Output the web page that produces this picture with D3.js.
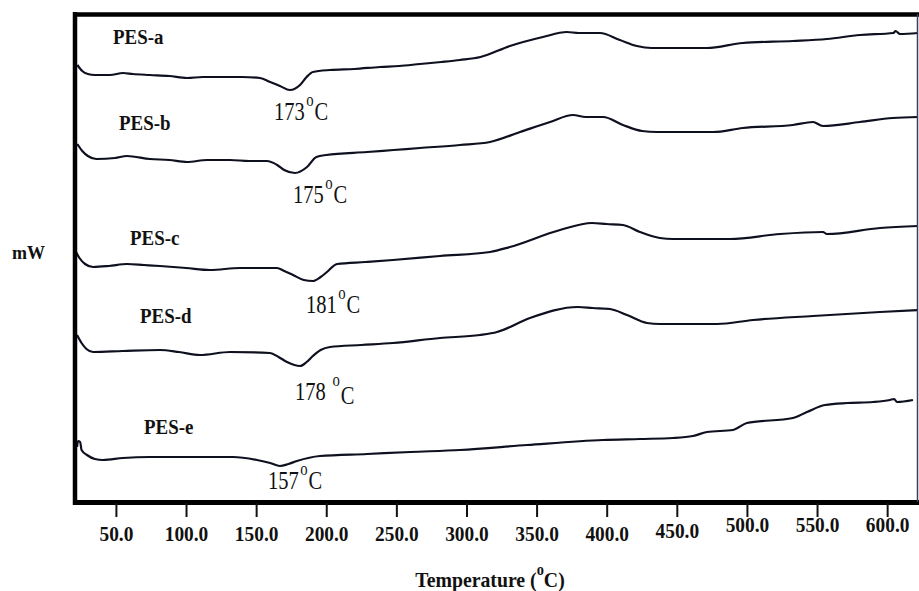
<!DOCTYPE html>
<html>
<head>
<meta charset="utf-8">
<script src="https://cdn.jsdelivr.net/npm/d3@7"></script>
<style>
  body { margin: 0; background: #fff; }
  svg { display: block; }
</style>
</head>
<body>
<svg id="chart"></svg>
<script>
// DSC traces, [temperature °C, heat flow (arbitrary mW, stacked offset)]
const pesA = [[22.5,43.5],[26.0,42.9],[30.0,42.6],[35.0,42.5],[45.8,42.5],[55.1,42.7],[62.0,42.6],[74.3,42.5],[88.0,42.4],[100.7,42.2],
  [112.0,42.3],[124.2,42.3],[140.0,42.3],[152.7,42.2],[160.0,41.8],[167.0,41.4],[174.1,41.0],[181.3,41.5],[186.0,42.3],[190.5,42.8],
  [202.7,43.0],[220.0,43.1],[238.3,43.3],[252.0,43.4],[266.8,43.6],[282.0,43.8],[295.4,44.0],[310.0,44.3],[331.0,45.4],[354.5,46.3],
  [371.6,46.8],[380.0,46.7],[395.2,46.7],[409.4,46.0],[421.5,45.4],[432.0,45.2],[471.4,45.2],[497.1,45.7],[532.8,45.9],[557.0,46.1],
  [580.6,46.5],[604.5,46.7],[606.0,46.9],[609.1,46.6],[622.0,46.7]];
const pesB = [[22.5,35.6],[26.0,34.9],[30.0,34.4],[36.0,34.1],[49.4,34.2],[57.9,34.4],[74.3,34.1],[88.0,34.0],[100.7,33.8],[115.0,34.0],
  [131.4,34.0],[145.0,33.9],[157.7,33.9],[165.0,33.5],[170.0,33.0],[177.7,32.7],[186.3,33.3],[193.0,34.3],[200.0,34.5],[229.1,34.8],
  [248.0,35.0],[266.8,35.2],[295.4,35.5],[316.8,35.8],[338.2,36.8],[359.6,37.8],[376.0,38.5],[385.0,38.3],[397.4,38.3],[411.6,37.5],
  [425.2,36.9],[435.9,36.8],[475.8,36.8],[497.1,37.2],[532.8,37.5],[547.1,37.8],[554.2,37.4],[580.6,37.8],[604.1,38.2],[622.0,38.3]];
const pesC = [[20.8,25.0],[24.0,24.2],[28.0,23.6],[33.7,23.3],[45.0,23.4],[57.9,23.6],[70.0,23.5],[81.4,23.4],[100.0,23.2],[117.1,23.0],
  [138.5,23.2],[164.9,23.2],[170.0,22.9],[176.3,22.5],[184.0,22.0],[190.5,21.9],[196.0,22.3],[200.5,22.8],[207.7,23.6],[228.0,23.8],
  [247.6,24.0],[281.1,24.4],[316.8,24.8],[331.0,25.3],[366.7,27.0],[389.5,27.7],[400.0,27.6],[411.6,27.5],[423.7,26.8],[437.9,26.2],
  [447.3,26.1],[487.9,26.1],[523.6,26.6],[554.2,26.8],[557.0,26.6],[594.9,27.2],[622.0,27.4]];
const pesD = [[22.3,16.5],[25.5,15.7],[29.0,15.1],[33.7,14.8],[55.0,14.9],[81.4,15.0],[95.0,14.8],[110.0,14.5],[131.4,14.8],[159.9,14.7],
  [166.0,14.3],[172.0,13.8],[181.3,13.4],[186.0,13.8],[190.5,14.4],[196.0,15.0],[202.7,15.3],[225.0,15.5],[247.6,15.7],[281.1,16.2],
  [309.6,16.5],[321.8,16.8],[345.3,18.2],[379.5,19.3],[390.0,19.2],[402.3,19.1],[414.5,18.5],[428.7,17.7],[438.0,17.6],[478.7,17.6],
  [504.3,18.0],[547.1,18.4],[594.9,18.8],[622.0,19.0]];
const pesE = [[22.3,5.3],[23.0,5.9],[24.5,5.8],[25.5,5.0],[29.4,4.5],[35.0,4.1],[40.8,4.0],[55.0,4.2],[74.3,4.3],[100.0,4.3],
  [133.5,4.3],[150.6,4.0],[160.0,3.7],[167.0,3.4],[173.0,3.6],[179.1,3.9],[195.5,4.4],[229.1,4.6],[260.0,4.8],[295.4,5.0],
  [343.2,5.5],[397.4,6.0],[423.7,6.1],[447.3,6.2],[461.5,6.4],[471.5,6.8],[490.1,7.0],[500.0,7.7],[532.8,8.2],[542.8,8.8],
  [555.7,9.5],[571.4,9.7],[589.9,9.8],[602.0,10.0],[605.0,10.1],[607.0,9.8],[618.4,10.0]];

const seriesNames = ['PES-a', 'PES-b', 'PES-c', 'PES-d', 'PES-e'];
const peakLabels = ['173', '175', '181', '178', '157'];
const xTicks = [50, 100, 150, 200, 250, 300, 350, 400, 450, 500, 550, 600];

// layout only: pixel positions / nudges for annotations (the scan is a bit uneven)
const nameLabelPos = [[113, 44], [119, 130], [130, 245], [140, 323], [144, 434]];
const peakLabelOffset = [[-16, 30], [-2, 30], [-7, 32], [-5, 34], [-12, 23]];
const peakLabelSpace = [false, false, false, true, false];
const tickLift = { 450: -3, 500: -9, 550: -9, 600: -9 };

const W = 919, H = 591;
const frame = { left: 73, right: 918, top: 12, bottom: 503 };
const serif = '"Liberation Serif", "Times New Roman", serif';
const ink = '#0e1020';

const svg = d3.select('#chart').attr('width', W).attr('height', H);

const x = d3.scaleLinear().domain([19.4, 622]).range([frame.left, frame.right]);
const y = d3.scaleLinear().domain([0, 48.6]).range([500, 14]);

const traces = [pesA, pesB, pesC, pesD, pesE];

const line = d3.line()
    .x(d => x(d[0]))
    .y(d => y(d[1]))
    .curve(d3.curveMonotoneX);

svg.append('g')
    .selectAll('path')
    .data(traces)
    .join('path')
    .attr('d', line)
    .attr('fill', 'none')
    .attr('stroke', ink)
    .attr('stroke-width', 2.2)
    .attr('stroke-linejoin', 'round');

// frame (thick on top/left/bottom, thin right edge)
svg.append('line').attr('x1', 75).attr('x2', 75).attr('y1', 12).attr('y2', 505)
    .attr('stroke', '#000').attr('stroke-width', 4.5);
svg.append('line').attr('x1', 73).attr('x2', 919).attr('y1', 14.5).attr('y2', 14.5)
    .attr('stroke', '#000').attr('stroke-width', 4.5);
svg.append('line').attr('x1', 73).attr('x2', 919).attr('y1', 502.5).attr('y2', 502.5)
    .attr('stroke', '#000').attr('stroke-width', 5);
svg.append('line').attr('x1', 917.5).attr('x2', 917.5).attr('y1', 14).attr('y2', 502)
    .attr('stroke', '#3a3f5c').attr('stroke-width', 1.5);

// x axis
const xAxis = d3.axisBottom(x)
    .tickValues(xTicks)
    .tickSize(14)
    .tickPadding(8)
    .tickFormat(d3.format('.1f'));

const axisG = svg.append('g')
    .attr('transform', `translate(0,${frame.bottom})`)
    .call(xAxis);

axisG.select('.domain').remove();
axisG.selectAll('.tick line').attr('stroke', '#111').attr('stroke-width', 2);
axisG.selectAll('.tick text')
    .attr('fill', '#111')
    .attr('font-family', serif)
    .attr('font-weight', 'bold')
    .attr('font-size', 22)
    .attr('transform', d => `translate(0,${tickLift[d] || 0}) scale(0.88,1)`);

// axis titles
const xTitle = svg.append('text')
    .attr('transform', 'translate(490,587) scale(0.9,1)')
    .attr('text-anchor', 'middle')
    .attr('font-family', serif)
    .attr('font-weight', 'bold')
    .attr('font-size', 22)
    .attr('fill', '#111');
xTitle.append('tspan').text('Temperature (');
xTitle.append('tspan').text('o').attr('font-size', 16).attr('dy', -12);
xTitle.append('tspan').text('C)').attr('dy', 12);

svg.append('text')
    .attr('x', 12).attr('y', 259)
    .attr('font-family', serif)
    .attr('font-weight', 'bold')
    .attr('font-size', 18)
    .attr('fill', '#111')
    .text('mW');

// series names
svg.append('g')
    .selectAll('text')
    .data(seriesNames)
    .join('text')
    .attr('transform', (d, i) => `translate(${nameLabelPos[i][0]},${nameLabelPos[i][1]}) scale(0.86,1)`)
    .attr('font-family', serif)
    .attr('font-weight', 'bold')
    .attr('font-size', 22)
    .attr('fill', '#111')
    .text(d => d);

// melting peak annotations, anchored at each trace minimum
traces.forEach((t, i) => {
    const minPt = t.reduce((a, b) => (b[1] < a[1] ? b : a));
    const px = x(minPt[0]) + peakLabelOffset[i][0];
    const py = y(minPt[1]) + peakLabelOffset[i][1];
    const label = svg.append('text')
        .attr('transform', `translate(${px},${py}) scale(0.82,1)`)
        .attr('font-family', serif)
        .attr('font-size', 25)
        .attr('fill', '#111');
    label.append('tspan').text(peakLabels[i] + (peakLabelSpace[i] ? ' ' : ''));
    label.append('tspan').text('o').attr('font-size', 18).attr('dx', 2).attr('dy', -14);
    label.append('tspan').text('C').attr('dx', 1).attr('dy', peakLabelSpace[i] ? 18 : 14);
});
</script>
</body>
</html>
